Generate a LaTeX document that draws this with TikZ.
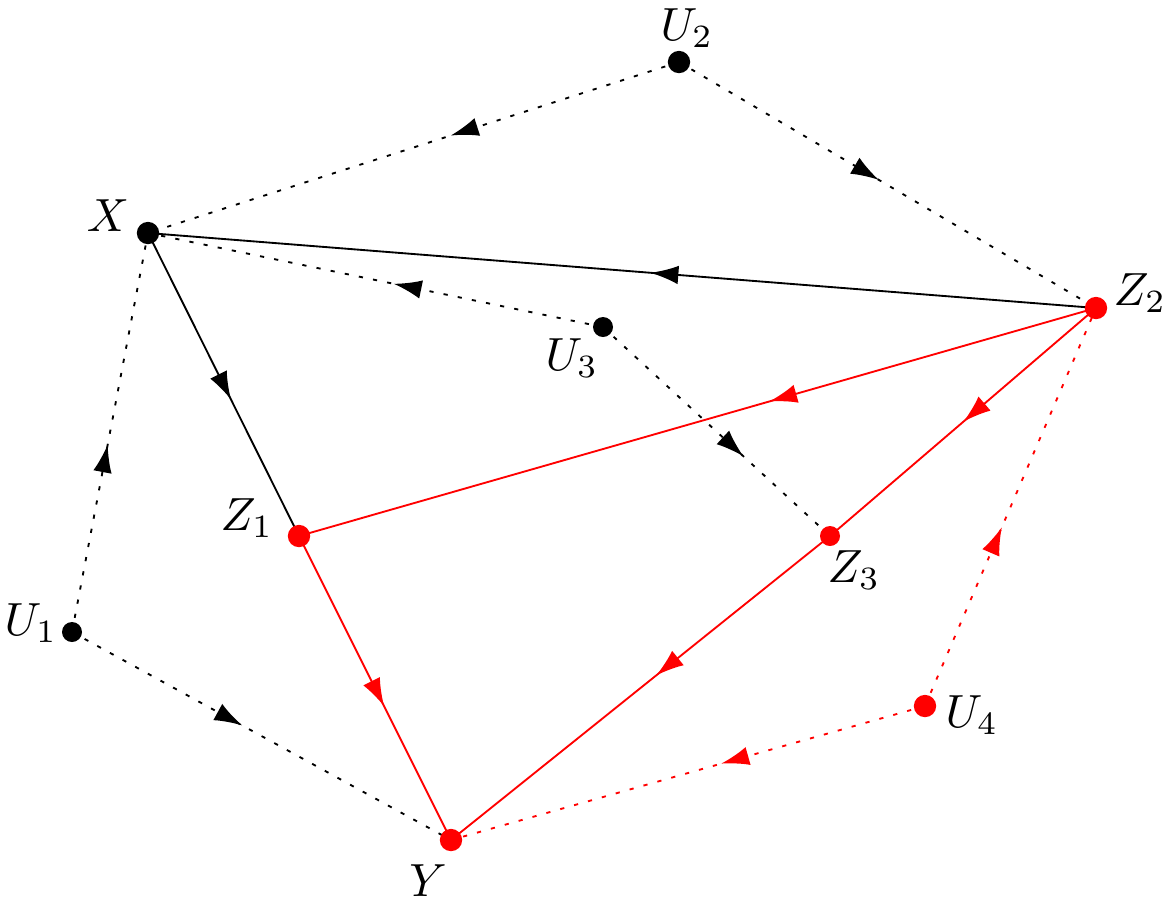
\documentclass[tikz,border=0pt]{standalone}
\usetikzlibrary{arrows.meta,decorations.markings,backgrounds}
\begin{document}
\begin{tikzpicture}[x=0.215pt,y=-0.215pt,
  dot/.style={circle,fill,inner sep=0pt,minimum size=4.8pt},
  sdot/.style={dot,minimum size=4.3pt},
  lbl/.style={inner sep=0pt},
  dots/.style={dash pattern=on 0.9pt off 2.2pt},
  mid/.style={postaction={decorate},decoration={markings,mark=at position #1 with {\arrow{Latex[length=6pt,width=4pt]}}}},
  edge/.style={line width=0.4pt}
]
\useasboundingbox (0,0) rectangle (1173,903);
% dots
\node[dot] (U2) at (679,62) {};
\node[dot] (X) at (148,233) {};
\node[dot,red] (Z2) at (1096,308) {};
\node[sdot] (U3) at (603,327) {};
\node[dot,red] (Z1) at (299,536) {};
\node[sdot,red] (Z3) at (830,536) {};
\node[sdot] (U1) at (72,632) {};
\node[dot,red] (U4) at (925,706) {};
\node[dot,red] (Y) at (451,840) {};
% labels
\node[lbl] (lX) at (108,216) {$X$};
\node[lbl] (lU2) at (687,28) {$U_2$};
\node[lbl] (lZ2) at (1140,293) {$Z_2$};
\node[lbl] (lU3) at (572,358) {$U_3$};
\node[lbl] (lZ1) at (247,518) {$Z_1$};
\node[lbl] (lZ3) at (854,570) {$Z_3$};
\node[lbl] (lU1) at (31,623) {$U_1$};
\node[lbl] (lU4) at (972,715) {$U_4$};
\node[lbl] (lY) at (428,881) {$Y$};
% edges
\begin{pgfonlayer}{background}
\draw[edge,dots,mid=0.43] (U2.center) -- (X.center);
\draw[edge,dots,mid=0.48] (U2.center) -- (Z2.center);
\draw[edge,mid=0.47] (Z2.center) -- (X.center);
\draw[edge,mid=0.55] (X.center) -- (Z1.center);
\draw[edge,dots,mid=0.46] (U3.center) -- (X.center);
\draw[edge,dots,mid=0.62] (U3.center) -- (Z3.center);
\draw[edge,dots,mid=0.47] (U1.center) -- (X.center);
\draw[edge,dots,mid=0.45] (U1.center) -- (Y.center);
\draw[edge,red,mid=0.41] (Z2.center) -- (Z1.center);
\draw[edge,red,mid=0.5] (Z2.center) -- (Z3.center);
\draw[edge,red,mid=0.46] (Z3.center) -- (Y.center);
\draw[edge,red,mid=0.56] (Z1.center) -- (Y.center);
\draw[edge,red,dots,mid=0.45] (U4.center) -- (Z2.center);
\draw[edge,red,dots,mid=0.43] (U4.center) -- (Y.center);
\end{pgfonlayer}
\end{tikzpicture}
\end{document}
